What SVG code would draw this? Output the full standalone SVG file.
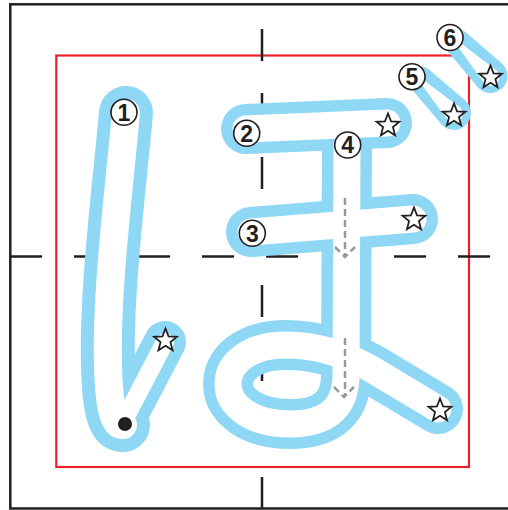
<svg xmlns="http://www.w3.org/2000/svg" width="508" height="510" viewBox="0 0 508 510">
<style>
.grid{stroke:#231f20;stroke-width:2.5;stroke-dasharray:32 32;fill:none}
.bl{fill:none;stroke:#8ed8f6;stroke-linecap:round;stroke-linejoin:round}
.wh{fill:none;stroke:#fff;stroke-linecap:round;stroke-linejoin:round}
.blf{fill:#8ed8f6}
.whf{fill:#fff}
.arrow{fill:none;stroke:#999;stroke-width:2.5;stroke-dasharray:7 4}
.star{fill:#fff;stroke:#231f20;stroke-width:1.8}
.num circle{fill:#fff;stroke:#231f20;stroke-width:1.6}
.num text{font-family:"Liberation Sans",Arial,sans-serif;font-weight:700;font-size:23px;fill:#231f20;text-anchor:middle}
</style>
<defs>
<path id="star" d="M0,-12 L3.06,-4.21 L11.41,-3.71 L4.95,1.61 L7.05,9.71 L0,5.2 L-7.05,9.71 L-4.95,1.61 L-11.41,-3.71 L-3.06,-4.21 Z"/>
</defs>
<rect x="0" y="0" width="508" height="510" fill="#fff"/>
<g id="frame">
<rect x="56.3" y="55.5" width="412.7" height="411.5" fill="none" stroke="#e8202a" stroke-width="2.2"/>
<rect x="10.3" y="4.3" width="500" height="504.2" fill="none" stroke="#231f20" stroke-width="2.5"/>
<line class="grid" x1="262" y1="29" x2="262" y2="510"/>
<line class="grid" x1="10" y1="256.5" x2="508" y2="256.5"/>
</g>
<g id="strokes-outline">
<path class="bl" stroke-width="54" d="M126,113 C119,190 106,290 108,365 C109,400 112,426 123,425"/>
<path class="bl" stroke-width="42" d="M122,424 L165,342"/>
<path class="bl" stroke-width="50" d="M246,129 L387,123"/>
<path class="bl" stroke-width="50" d="M251,232 L413,219"/>
<path class="bl" stroke-width="50" d="M347,145 L346,375 C346,412 322,424 290,424 C252,424 228,406 228,384 C228,360 254,345 285,345 C318,345 345,354 373,370 L438,409"/>
<path class="blf" d="M410.81,88.19 L441.98,125.02 A17,17 0 0 0 466.02,100.98 L429.19,69.81 A13,13 0 0 0 410.81,88.19 Z"/>
<path class="blf" d="M447.73,51.13 L478.38,87.93 A17,17 0 0 0 502.62,64.07 L466.27,32.87 A13,13 0 0 0 447.73,51.13 Z"/>
</g>
<g id="strokes-inner">
<path class="wh" stroke-width="28" d="M126,113 C119,190 106,290 108,365 C109,400 112,426 123,425"/>
<path class="wh" stroke-width="18" d="M122,424 L165,342"/>
<path class="wh" stroke-width="27" d="M246,129 L387,123"/>
<path class="wh" stroke-width="27" d="M251,232 L413,219"/>
<path class="wh" stroke-width="27" d="M347,145 L346,375 C346,412 322,424 290,424 C252,424 228,406 228,384 C228,360 254,345 285,345 C318,345 345,354 373,370 L438,409"/>
<path class="whf" d="M422.23,85.27 L447.64,120.36 A9,9 0 0 0 460.36,107.64 L425.77,81.73 A2.5,2.5 0 0 0 422.23,85.27 Z"/>
<path class="whf" d="M459.22,48.26 L484.08,83.32 A9,9 0 0 0 496.92,70.68 L462.78,44.74 A2.5,2.5 0 0 0 459.22,48.26 Z"/>
</g>
<g id="connectors">
<path class="arrow" d="M345,198 L345,256"/>
<path class="arrow" d="M335,247 L345,257 L355,247"/>
<path class="arrow" d="M345,338 L345,396"/>
<path class="arrow" d="M334,387 L344,397 L354,387"/>
</g>
<g id="start-dot"><circle cx="125" cy="424" r="7" fill="#231f20"/></g>
<g id="stars">
<use href="#star" class="star" x="165.5" y="340.5"/>
<use href="#star" class="star" x="388" y="125.5"/>
<use href="#star" class="star" x="414" y="219.5"/>
<use href="#star" class="star" x="440" y="410.5"/>
<use href="#star" class="star" x="454" y="115.5"/>
<use href="#star" class="star" x="490.5" y="77.5"/>
</g>
<g id="n1" class="num"><circle cx="124" cy="112.3" r="13"/><text x="124" y="120.5">1</text></g>
<g id="n2" class="num"><circle cx="246.7" cy="133.3" r="13"/><text x="246.7" y="141.5">2</text></g>
<g id="n3" class="num"><circle cx="252.3" cy="233.3" r="13"/><text x="252.3" y="241.5">3</text></g>
<g id="n4" class="num"><circle cx="347.7" cy="145" r="13"/><text x="347.7" y="153.2">4</text></g>
<g id="n5" class="num"><circle cx="412" cy="76.7" r="13"/><text x="412" y="84.9">5</text></g>
<g id="n6" class="num"><circle cx="450" cy="37.5" r="13"/><text x="450" y="45.7">6</text></g>
</svg>
